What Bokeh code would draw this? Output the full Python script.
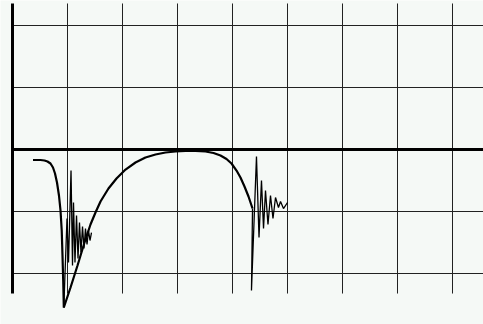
from bokeh.plotting import figure
from bokeh.models import Range1d
from bokeh.embed import file_html
from bokeh.resources import INLINE

# Grid divisions (time on x, amplitude on y)
x_ticks = [1, 2, 3, 4, 5, 6, 7, 8]
y_ticks = [-2, -1, 1, 2]
x_lo, x_hi = -12 / 55, 471 / 55
y_lo, y_hi = -175 / 62, 149 / 62
grid_bottom, grid_top = -2.323, 2.355

# Initial dip of the response
dip_t = [0.373, 0.509, 0.582, 0.636, 0.691, 0.736, 0.773, 0.809, 0.845, 0.873, 0.895, 0.909, 0.922, 0.933]
dip_v = [-0.169, -0.169, -0.177, -0.194, -0.226, -0.290, -0.387, -0.532, -0.742, -0.984, -1.306, -1.710, -2.113, -2.548]

# Ringing after the dip
ring1_t = [0.933, 0.991, 1.018, 1.064, 1.091, 1.109, 1.136, 1.164, 1.191, 1.218, 1.245, 1.273,
           1.300, 1.327, 1.355, 1.382, 1.409, 1.436]
ring1_v = [-2.548, -1.113, -1.823, -0.339, -1.871, -0.855, -1.823, -1.065, -1.758, -1.177, -1.661, -1.242,
           -1.597, -1.274, -1.532, -1.306, -1.468, -1.339]

# Recovery arc
arc_t = [0.933, 1.055, 1.182, 1.309, 1.418, 1.509, 1.600, 1.745, 1.891, 2.055, 2.236, 2.418, 2.600,
         2.782, 2.964, 3.145, 3.327, 3.509, 3.655, 3.782, 3.891, 3.982, 4.073, 4.145, 4.218, 4.291, 4.364]
arc_v = [-2.548, -2.226, -1.871, -1.500, -1.210, -1.016, -0.839, -0.629, -0.468, -0.323, -0.210, -0.129, -0.081,
         -0.048, -0.032, -0.024, -0.024, -0.032, -0.056, -0.097, -0.153, -0.226, -0.339, -0.452, -0.597, -0.758, -0.952]

# Second ringing burst
ring2_t = [4.364, 4.345, 4.436, 4.482, 4.527, 4.564, 4.600, 4.645, 4.691, 4.736, 4.782, 4.836, 4.873, 4.927, 5.000]
ring2_v = [-0.952, -2.274, -0.113, -1.419, -0.500, -1.274, -0.661, -1.210, -0.742, -1.113, -0.774, -0.935,
           -0.839, -0.952, -0.855]

bg = "#f5f9f6"
p = figure(width=483, height=324, output_backend="svg", toolbar_location=None,
           x_axis_type=None, y_axis_type=None,
           x_range=Range1d(x_lo, x_hi), y_range=Range1d(y_lo, y_hi),
           min_border=0, background_fill_color=bg, border_fill_color=bg,
           outline_line_color=None)

# Grid lines
p.segment(x0=x_ticks, x1=x_ticks, y0=[grid_bottom] * len(x_ticks), y1=[grid_top] * len(x_ticks),
          line_color="#222222", line_width=1)
p.segment(x0=[0] * len(y_ticks), x1=[x_hi] * len(y_ticks), y0=y_ticks, y1=y_ticks,
          line_color="#222222", line_width=1)

# Heavy axes: zero line and left edge
p.segment(x0=[0], x1=[x_hi], y0=[0], y1=[0], line_color="black", line_width=3)
p.segment(x0=[0], x1=[0], y0=[grid_bottom], y1=[grid_top], line_color="black", line_width=3)

# Response trace
p.line(dip_t, dip_v, line_color="black", line_width=2.2)
p.line(arc_t, arc_v, line_color="black", line_width=2.2)
p.line(ring1_t, ring1_v, line_color="black", line_width=1.3)
p.line(ring2_t, ring2_v, line_color="black", line_width=1.3)

open("out.html", "w").write(file_html(p, INLINE))
